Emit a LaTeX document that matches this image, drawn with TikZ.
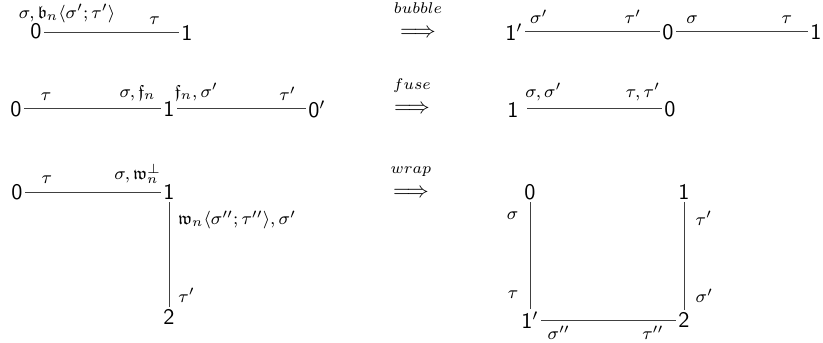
\documentclass[tikz,border=0pt]{standalone}
\usepackage{amssymb}
\usetikzlibrary{positioning}
\begin{document}
\begin{tikzpicture}[x=0.45pt,y=-0.45pt,
    vtx/.style={font=\sffamily, inner sep=1pt},
    lab/.style={font=\footnotesize, inner sep=1.5pt},
    rule/.style={font=\scriptsize, inner sep=1pt},
    edge/.style={draw=black!75, line width=0.45pt}]
    \useasboundingbox (0,0) rectangle (823,343);

    % bubble: left side
    \node[vtx] (a0) at (36,31) {0};
    \node[vtx] (a1) at (187,33) {1};
    \draw[edge] (a1.west -| a0.east) -- (a1.west)
        node[lab, pos=0.17, above=3pt] {$\sigma,\mathfrak{b}_n\langle\sigma';\tau'\rangle$}
        node[lab, pos=0.82, above=2pt] {$\tau$};
    \node (bub) at (418,33) {$\Longrightarrow$};
    \node[rule, above=2pt of bub] (bubl) {$bubble$};
    % bubble: right side
    \node[vtx] (b1p) at (514,32) {1$'$};
    \node[vtx] (b0) at (668,32) {0};
    \node[vtx] (b1) at (816,32) {1};
    \draw[edge] (b1p) -- (b0)
        node[lab, pos=0.1, above=2pt] {$\sigma'$}
        node[lab, pos=0.8, above=2pt] {$\tau'$};
    \draw[edge] (b0) -- (b1)
        node[lab, pos=0.12, above=2pt] {$\sigma$}
        node[lab, pos=0.84, above=2pt] {$\tau$};

    % fuse
    \node[vtx] (c0) at (16,109) {0};
    \node[vtx] (c1) at (169,109) {1};
    \node[vtx] (c0p) at (317,109) {0$'$};
    \draw[edge] (c0) -- (c1)
        node[lab, pos=0.16, above=2pt] {$\tau$}
        node[lab, pos=0.83, above=2pt] {$\sigma,\mathfrak{f}_n$};
    \draw[edge] (c1) -- (c0p)
        node[lab, pos=0.15, above=2pt] {$\mathfrak{f}_n,\sigma'$}
        node[lab, pos=0.86, above=2pt] {$\tau'$};
    \node (fus) at (412,109) {$\Longrightarrow$};
    \node[rule, above=1pt of fus] (fusl) {$fuse$};
    \node[vtx] (d1) at (516,109) {1\phantom{$'$}};
    \node[vtx] (d0) at (670,109) {0};
    \draw[edge] (d1) -- (d0)
        node[lab, pos=0.12, above=2pt] {$\sigma,\sigma'$}
        node[lab, pos=0.86, above=2pt] {$\tau,\tau'$};

    % wrap: left side
    \node[vtx] (e0) at (17,192) {0};
    \node[vtx] (e1) at (169,192) {1};
    \node[vtx] (e2) at (169,317) {2};
    \draw[edge] (e0) -- (e1)
        node[lab, pos=0.16, above=2pt] {$\tau$}
        node[lab, pos=0.83, above=2pt] {$\sigma,\mathfrak{w}_n^{\perp}$};
    \draw[edge] (e1) -- (e2)
        node[lab, pos=0.17, right=2.5pt] {$\mathfrak{w}_n\langle\sigma'';\tau''\rangle,\sigma'$}
        node[lab, pos=0.89, right=2.5pt] {$\tau'$};
    \node (wrp) at (411,193) {$\Longrightarrow$};
    \node[rule, above=1pt of wrp] (wrpl) {$wrap$};
    % wrap: right side
    \node[vtx] (f0) at (530,192) {0};
    \node[vtx] (f1) at (684,192) {1};
    \node[vtx] (f1p) at (530,320) {1$'$};
    \node[vtx] (f2) at (684,320) {2};
    \draw[edge] (f0) -- (f1p)
        node[lab, pos=0.12, left=3.5pt] {$\sigma$}
        node[lab, pos=0.87, left=3.5pt] {$\tau$};
    \draw[edge] (f1) -- (f2)
        node[lab, pos=0.15, right=3.5pt] {$\tau'$}
        node[lab, pos=0.87, right=3.5pt] {$\sigma'$};
    \draw[edge] (f1p) -- (f2)
        node[lab, pos=0.13, below=1pt] {$\sigma''$}
        node[lab, pos=0.83, below=1pt] {$\tau''$};
\end{tikzpicture}
\end{document}
